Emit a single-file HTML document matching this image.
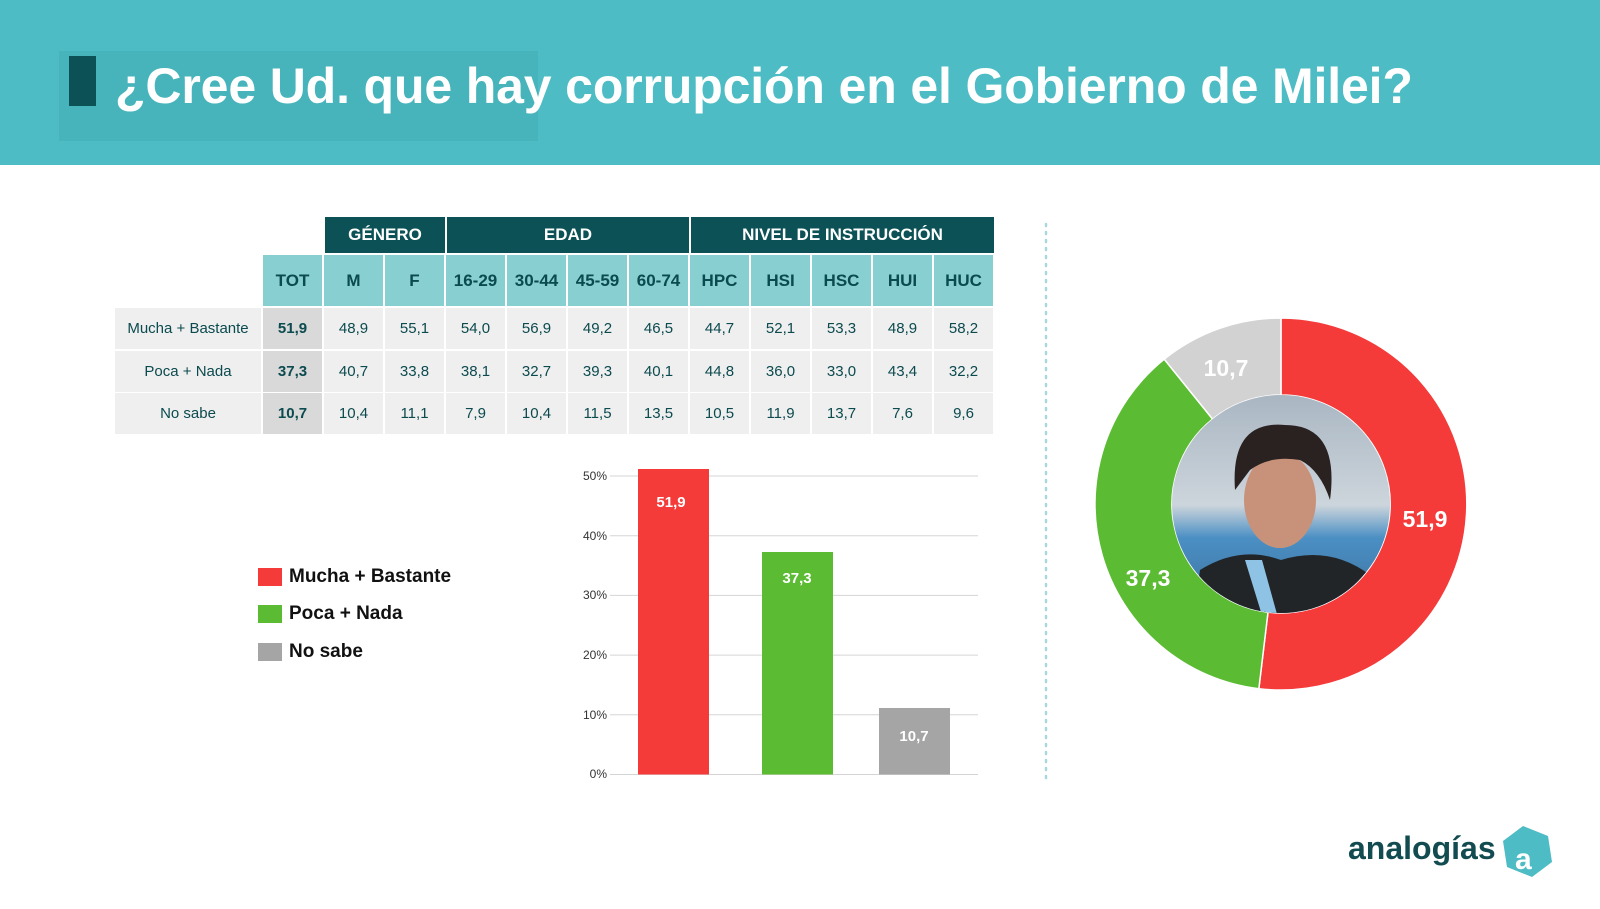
<!DOCTYPE html>
<html><head><meta charset="utf-8"><style>
*{margin:0;padding:0;box-sizing:border-box}
body{width:1600px;height:909px;background:#fff;position:relative;overflow:hidden;font-family:"Liberation Sans",sans-serif;color:#0b4a4e}
.hdr{position:absolute;left:0;top:0;width:1600px;height:165px;background:#4dbcc4}
.tbox{position:absolute;left:59px;top:51px;width:479px;height:90px;background:#47b4bc}
.bar{position:absolute;left:69px;top:56px;width:27px;height:50px;background:#0b5155}
.title{position:absolute;left:115px;top:57px;font-size:50px;font-weight:bold;color:#fff;white-space:nowrap;letter-spacing:-0.15px}
.c{position:absolute;display:flex;align-items:center;justify-content:center;font-size:15px}
.g{background:#0b5155;color:#fff;font-weight:bold;font-size:17px}
.s{background:#87cfd1;color:#0b4a4e;font-weight:bold;font-size:17px}
.r{background:#efefef}
.t{background:#d9d9d9;font-weight:bold}
.lg{position:absolute;left:258px;font-size:19px;font-weight:bold;color:#111}
.lg i{position:absolute;left:0;top:2px;width:24px;height:18px}
.lg span{position:absolute;left:31px;top:0;white-space:nowrap}
</style></head><body>
<div class="hdr"></div><div class="tbox"></div><div class="bar"></div>
<div class="title">¿Cree Ud. que hay corrupción en el Gobierno de Milei?</div>

<div class="c g" style="left:325px;top:217px;width:120px;height:36px">GÉNERO</div>
<div class="c g" style="left:447px;top:217px;width:242px;height:36px">EDAD</div>
<div class="c g" style="left:691px;top:217px;width:303px;height:36px">NIVEL DE INSTRUCCIÓN</div>
<div id="tbl"></div>
<script>
var cols=["TOT","M","F","16-29","30-44","45-59","60-74","HPC","HSI","HSC","HUI","HUC"];
var rows=[["Mucha + Bastante","51,9","48,9","55,1","54,0","56,9","49,2","46,5","44,7","52,1","53,3","48,9","58,2"],
["Poca + Nada","37,3","40,7","33,8","38,1","32,7","39,3","40,1","44,8","36,0","33,0","43,4","32,2"],
["No sabe","10,7","10,4","11,1","7,9","10,4","11,5","13,5","10,5","11,9","13,7","7,6","9,6"]];
var h="",x0=263,w=59,st=61;
for(var i=0;i<12;i++)h+='<div class="c s" style="left:'+(x0+i*st)+'px;top:255px;width:'+w+'px;height:51px">'+cols[i]+'</div>';
var ys=[308,351,393];
for(var r=0;r<3;r++){h+='<div class="c r" style="left:115px;top:'+ys[r]+'px;width:146px;height:41px">'+rows[r][0]+'</div>';
for(var i=0;i<12;i++)h+='<div class="c '+(i==0?'t':'r')+'" style="left:'+(x0+i*st)+'px;top:'+ys[r]+'px;width:'+w+'px;height:41px">'+rows[r][i+1]+'</div>';}
document.getElementById("tbl").innerHTML=h;
</script>

<div class="lg" style="top:566px"><i style="background:#f53a3a"></i><span>Mucha + Bastante</span></div>
<div class="lg" style="top:603px"><i style="background:#5bbb33"></i><span>Poca + Nada</span></div>
<div class="lg" style="top:641px"><i style="background:#a5a5a5"></i><span>No sabe</span></div>

<svg width="1600" height="909" style="position:absolute;left:0;top:0">
<g font-family="Liberation Sans" font-size="12" fill="#333" text-anchor="end">
<g stroke="#d5d5d5" stroke-width="1">
<line x1="610" x2="978" y1="476" y2="476"/><line x1="610" x2="978" y1="535.7" y2="535.7"/>
<line x1="610" x2="978" y1="595.4" y2="595.4"/><line x1="610" x2="978" y1="655.1" y2="655.1"/>
<line x1="610" x2="978" y1="714.8" y2="714.8"/><line x1="610" x2="978" y1="774.5" y2="774.5"/></g>
<text x="607" y="480">50%</text><text x="607" y="540">40%</text><text x="607" y="599">30%</text>
<text x="607" y="659">20%</text><text x="607" y="719">10%</text><text x="607" y="778">0%</text>
</g>
<rect x="638" y="469" width="71" height="305.5" fill="#f53a3a"/>
<rect x="762" y="552" width="71" height="222.5" fill="#5bbb33"/>
<rect x="879" y="708" width="71" height="66.5" fill="#a5a5a5"/>
<g font-family="Liberation Sans" font-size="15" font-weight="bold" fill="#fff" text-anchor="middle">
<text x="671" y="507">51,9</text><text x="797" y="583">37,3</text><text x="914" y="741">10,7</text></g>
<line x1="1046" y1="224" x2="1046" y2="784" stroke="#a8d8dc" stroke-width="2.5" stroke-dasharray="2,6" stroke-linecap="round"/>
<path d="M1281,318 A186,186 0 1 1 1258.85,688.7 L1268,612.2 A109,109 0 1 0 1281,395 Z" fill="#f53a3a" stroke="#fff" stroke-width="1.5"/>
<path d="M1258.85,688.7 A186,186 0 0 1 1164.25,359.2 L1212.6,419.1 A109,109 0 0 0 1268,612.2 Z" fill="#5bbb33" stroke="#fff" stroke-width="1.5"/>
<path d="M1164.25,359.2 A186,186 0 0 1 1281,318 L1281,395 A109,109 0 0 0 1212.6,419.1 Z" fill="#d2d2d2" stroke="#fff" stroke-width="1.5"/>
<defs><clipPath id="cp"><circle cx="1281" cy="504" r="109"/></clipPath>
<linearGradient id="bg" x1="0" y1="0" x2="0" y2="1"><stop offset="0" stop-color="#a9b6c2"/><stop offset="0.5" stop-color="#cdd5dc"/><stop offset="0.65" stop-color="#4b8fc4"/><stop offset="1" stop-color="#3a6f9a"/></linearGradient></defs>
<g clip-path="url(#cp)">
<rect x="1170" y="395" width="222" height="220" fill="url(#bg)"/>
<path d="M1190,640 L1200,570 Q1240,545 1281,560 Q1330,545 1370,575 L1380,640 Z" fill="#222528"/>
<path d="M1245,560 L1265,625 L1280,625 L1262,560 Z" fill="#8fc3e6"/>
<ellipse cx="1280" cy="500" rx="36" ry="48" fill="#c8927a"/>
<path d="M1235,490 Q1230,420 1285,425 Q1340,425 1330,500 Q1320,470 1300,460 Q1270,455 1250,470 Z" fill="#2a2220"/>
</g>
<g font-family="Liberation Sans" font-size="23" font-weight="bold" fill="#fff" text-anchor="middle">
<text x="1425" y="527">51,9</text><text x="1148" y="586">37,3</text><text x="1226" y="376">10,7</text></g>
<text x="1348" y="859" font-family="Liberation Sans" font-size="32" font-weight="bold" fill="#124c50">analogías</text>
<path d="M1523,826 L1548,836 L1552,862 L1532,877 L1507,867 L1503,841 Z" fill="#4dbcc4"/>
<text x="1515" y="869" font-family="Liberation Sans" font-size="30" font-weight="bold" fill="#fff">a</text>
</svg>
</body></html>
